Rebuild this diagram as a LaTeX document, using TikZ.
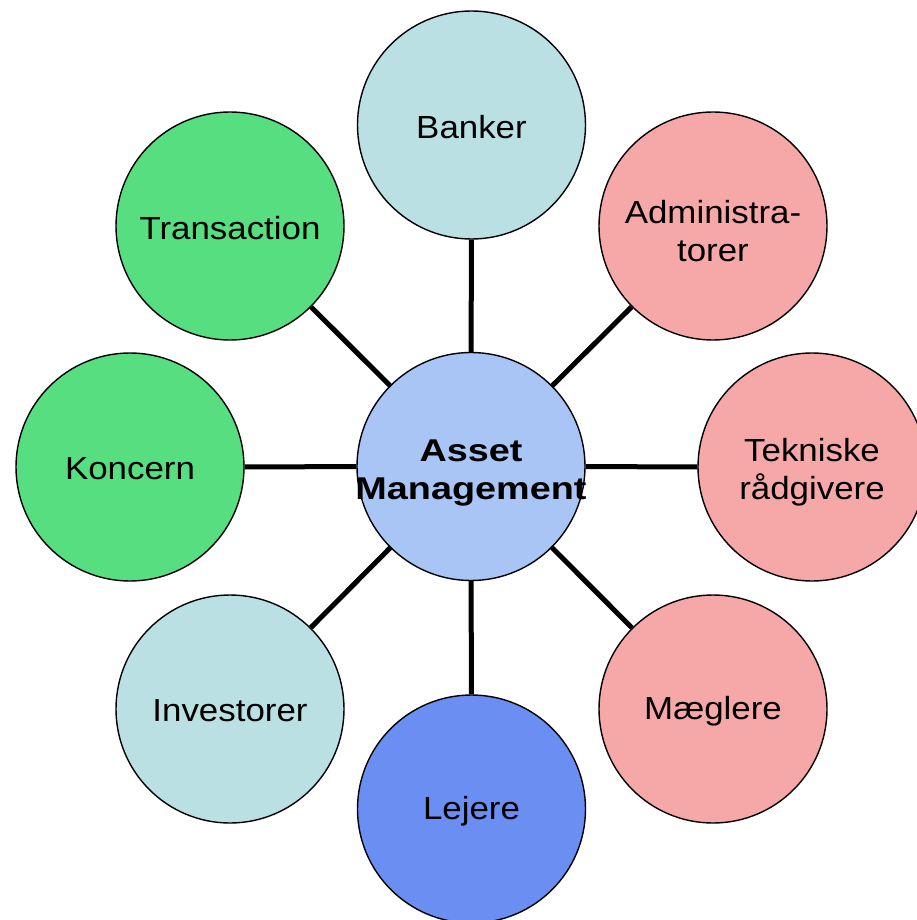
\documentclass[tikz,border=0pt]{standalone}
\usepackage{fontspec}
\setmainfont{Liberation Sans}
\newfontfamily\regfont{Liberation Sans}[FakeStretch=1.09]
\newfontfamily\bldfont{Liberation Sans}[FakeStretch=1.2]
\definecolor{cyanish}{HTML}{BAE0E4}
\definecolor{pinkish}{HTML}{F6A8A8}
\definecolor{greenish}{HTML}{57DE80}
\definecolor{bluish}{HTML}{6A8EF2}
\definecolor{centerblue}{HTML}{A8C5F6}
\tikzset{
  bubble/.style={circle, draw=black, line width=1.4pt, minimum size=228pt, inner sep=0pt},
  txt/.style={align=center, font=\regfont\fontsize{32}{38}\selectfont, inner sep=0pt, yshift=-2pt},
  txttwo/.style={txt, yshift=-3pt},
  ctxt/.style={align=center, font=\bldfont\bfseries\fontsize{31.5}{38}\selectfont, inner sep=0pt, yshift=-6pt},
  link/.style={line width=5pt}
}
\begin{document}
\begin{tikzpicture}[x=1pt,y=-1pt]
\useasboundingbox (0,0) rectangle (917,920);
\node[bubble, fill=centerblue] (c) at (471,466.5) {};
\node[bubble, fill=cyanish] (banker) at (471.5,125) {};
\node[bubble, fill=pinkish] (admin) at (713,226) {};
\node[bubble, fill=pinkish] (tek) at (812,467) {};
\node[bubble, fill=pinkish] (maeg) at (713,709) {};
\node[bubble, fill=bluish] (lej) at (471.5,809) {};
\node[bubble, fill=cyanish] (inv) at (230,709) {};
\node[bubble, fill=greenish] (kon) at (130,467) {};
\node[bubble, fill=greenish] (tra) at (230,226) {};
\foreach \n in {banker,admin,tek,maeg,lej,inv,kon,tra}
  \draw[link] (c) -- (\n);
\node[ctxt] (tc) at (c) {Asset\\Management};
\node[txt] (tbanker) at (banker) {Banker};
\node[txttwo] (tadmin) at (admin) {Administra-\\torer};
\node[txttwo] (ttek) at (tek) {Tekniske\\rådgivere};
\node[txt] (tmaeg) at (maeg) {Mæglere};
\node[txt] (tlej) at (lej) {Lejere};
\node[txt] (tinv) at (inv) {Investorer};
\node[txt] (tkon) at (kon) {Koncern};
\node[txt] (ttra) at (tra) {Transaction};
\end{tikzpicture}
\end{document}
